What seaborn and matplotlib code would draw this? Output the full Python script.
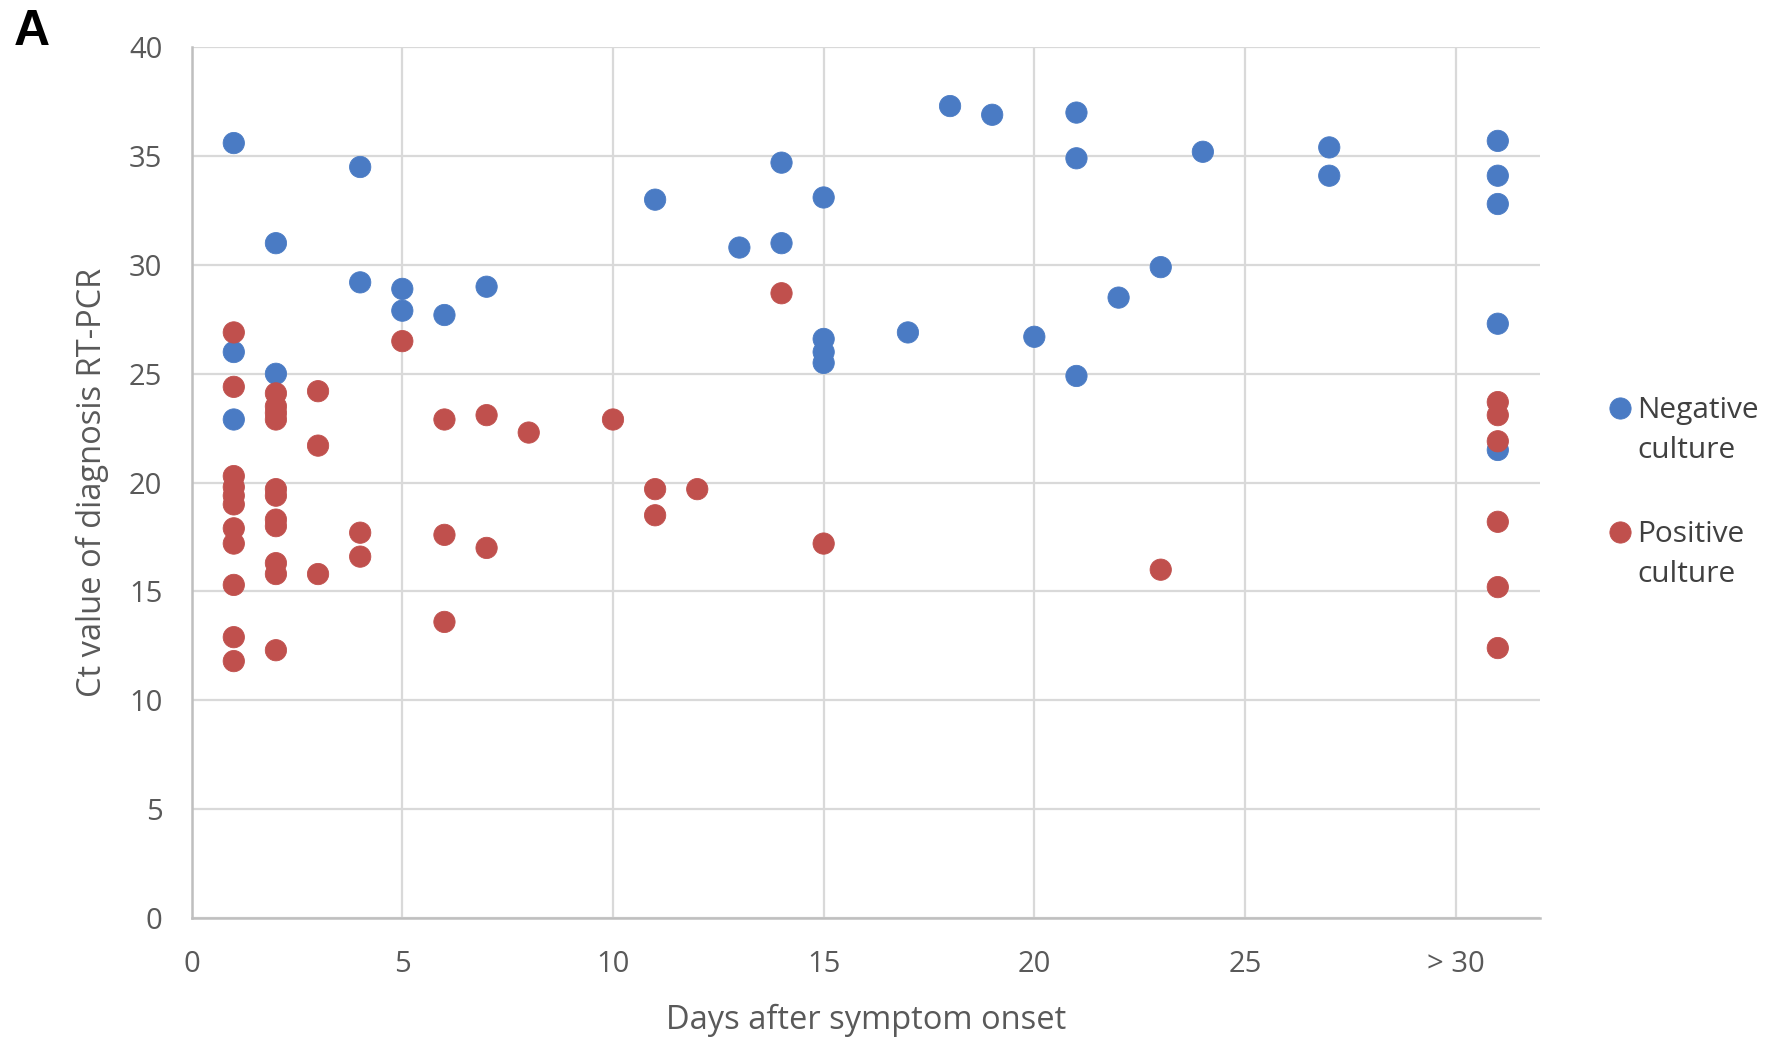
import numpy as np
import pandas as pd
import matplotlib
matplotlib.use("Agg")
import matplotlib.pyplot as plt
import seaborn as sns
from matplotlib.legend_handler import HandlerLine2D

# ---- data ----
neg_days = [1, 1, 1, 2, 2, 4, 4, 5, 5, 6, 7, 11, 13, 14, 14, 15, 15, 15, 15, 17, 18, 19, 20,
            21, 21, 21, 22, 23, 24, 27, 27, 31, 31, 31, 31, 31]
neg_ct = [35.6, 26.0, 22.9, 31.0, 25.0, 34.5, 29.2, 28.9, 27.9, 27.7, 29.0, 33.0, 30.8, 34.7, 31.0,
          33.1, 26.6, 26.0, 25.5, 26.9, 37.3, 36.9, 26.7, 37.0, 34.9, 24.9, 28.5, 29.9, 35.2,
          35.4, 34.1, 35.7, 34.1, 32.8, 27.3, 21.5]

pos_days = [1, 1, 1, 1, 1, 1, 1, 1, 1, 1, 1,
            2, 2, 2, 2, 2, 2, 2, 2, 2, 2, 2,
            3, 3, 3, 4, 4, 5, 6, 6, 6, 7, 7, 8, 10, 11, 11, 12, 14, 15, 23,
            31, 31, 31, 31, 31, 31]
pos_ct = [26.9, 24.4, 20.3, 19.8, 19.4, 19.0, 17.9, 17.2, 15.3, 12.9, 11.8,
          24.1, 23.5, 23.2, 22.9, 19.7, 19.4, 18.3, 18.0, 16.3, 15.8, 12.3,
          24.2, 21.7, 15.8, 17.7, 16.6, 26.5, 22.9, 17.6, 13.6, 23.1, 17.0, 22.3, 22.9, 19.7, 18.5,
          19.7, 28.7, 17.2, 16.0,
          23.7, 23.1, 21.9, 18.2, 15.2, 12.4]

series_labels = ["Negative\nculture", "Positive\nculture"]
series_colors = ["#4a7bc4", "#c0504d"]
x_ticks = [0, 5, 10, 15, 20, 25, 30]
x_tick_labels = ["0", "5", "10", "15", "20", "25", "> 30"]
y_ticks = [0, 5, 10, 15, 20, 25, 30, 35, 40]

df = pd.DataFrame({
    "days": neg_days + pos_days,
    "ct": neg_ct + pos_ct,
    "group": [series_labels[0]] * len(neg_days) + [series_labels[1]] * len(pos_days),
})

# ---- figure ----
sns.set_style("white")
plt.rcParams["font.family"] = ["Open Sans", "DejaVu Sans"]

fig = plt.figure(figsize=(17.68, 10.37), dpi=100)
ax = fig.add_axes([0.1084, 0.1148, 0.7626, 0.8396])

pal = dict(zip(series_labels, series_colors))
sns.scatterplot(data=df, x="days", y="ct", hue="group", hue_order=series_labels,
                palette=pal, s=235, linewidth=0.6, edgecolor="face", alpha=1.0,
                ax=ax, zorder=3)

ax.set_xlim(0, 32)
ax.set_ylim(0, 40)
ax.set_xticks(x_ticks)
ax.set_xticklabels(x_tick_labels)
ax.set_yticks(y_ticks)

grid_c = "#d9d9d9"
ax.grid(True, color=grid_c, linewidth=1.6, zorder=0)
ax.set_axisbelow(True)
for s in ["top", "right"]:
    ax.spines[s].set_visible(False)
for s in ["left", "bottom"]:
    ax.spines[s].set_color("#bfbfbf")
    ax.spines[s].set_linewidth(1.8)

ax.tick_params(axis="both", colors="#bfbfbf", width=1.5, labelcolor="#595959", labelsize=21)
ax.tick_params(axis="x", length=8, pad=15, direction="out")
ax.tick_params(axis="y", length=9, pad=12, direction="out")

ax.set_xlabel("Days after symptom onset", fontsize=23.5, color="#595959")
ax.xaxis.set_label_coords(0.5, -0.0985)
ax.xaxis.label.set_va("top")
ax.set_ylabel("Ct value of diagnosis RT-PCR", fontsize=23.5, color="#595959")
ax.yaxis.set_label_coords(-0.0613, 0.5)


class ShiftedLine(HandlerLine2D):
    def __init__(self, shift, **kw):
        super().__init__(**kw)
        self.shift = shift

    def create_artists(self, legend, orig_handle, xdescent, ydescent, width, height,
                       fontsize, trans):
        arts = super().create_artists(legend, orig_handle, xdescent, ydescent, width,
                                      height, fontsize, trans)
        for a in arts:
            a.set_ydata(np.asarray(a.get_ydata(), dtype=float) + self.shift)
        return arts


handles, labels = ax.get_legend_handles_labels()
leg = ax.legend(handles, labels, loc="upper left",
                bbox_to_anchor=(0.911, 0.618), bbox_transform=fig.transFigure,
                frameon=False, fontsize=21.5, handlelength=0.6, handletextpad=0.3,
                labelspacing=1.85, borderpad=0, borderaxespad=0,
                handler_map={h: ShiftedLine(17) for h in handles})
for t in leg.get_texts():
    t.set_color("#404040")
    t.set_linespacing(1.5)
for h in leg.legend_handles:
    h.set_markersize(15.3)

fig.text(0.008, 0.991, "A", fontsize=36, fontweight="bold", va="top", ha="left",
         family=["Liberation Sans", "DejaVu Sans"], color="black")

fig.savefig("out.png", dpi=100, facecolor="white")
